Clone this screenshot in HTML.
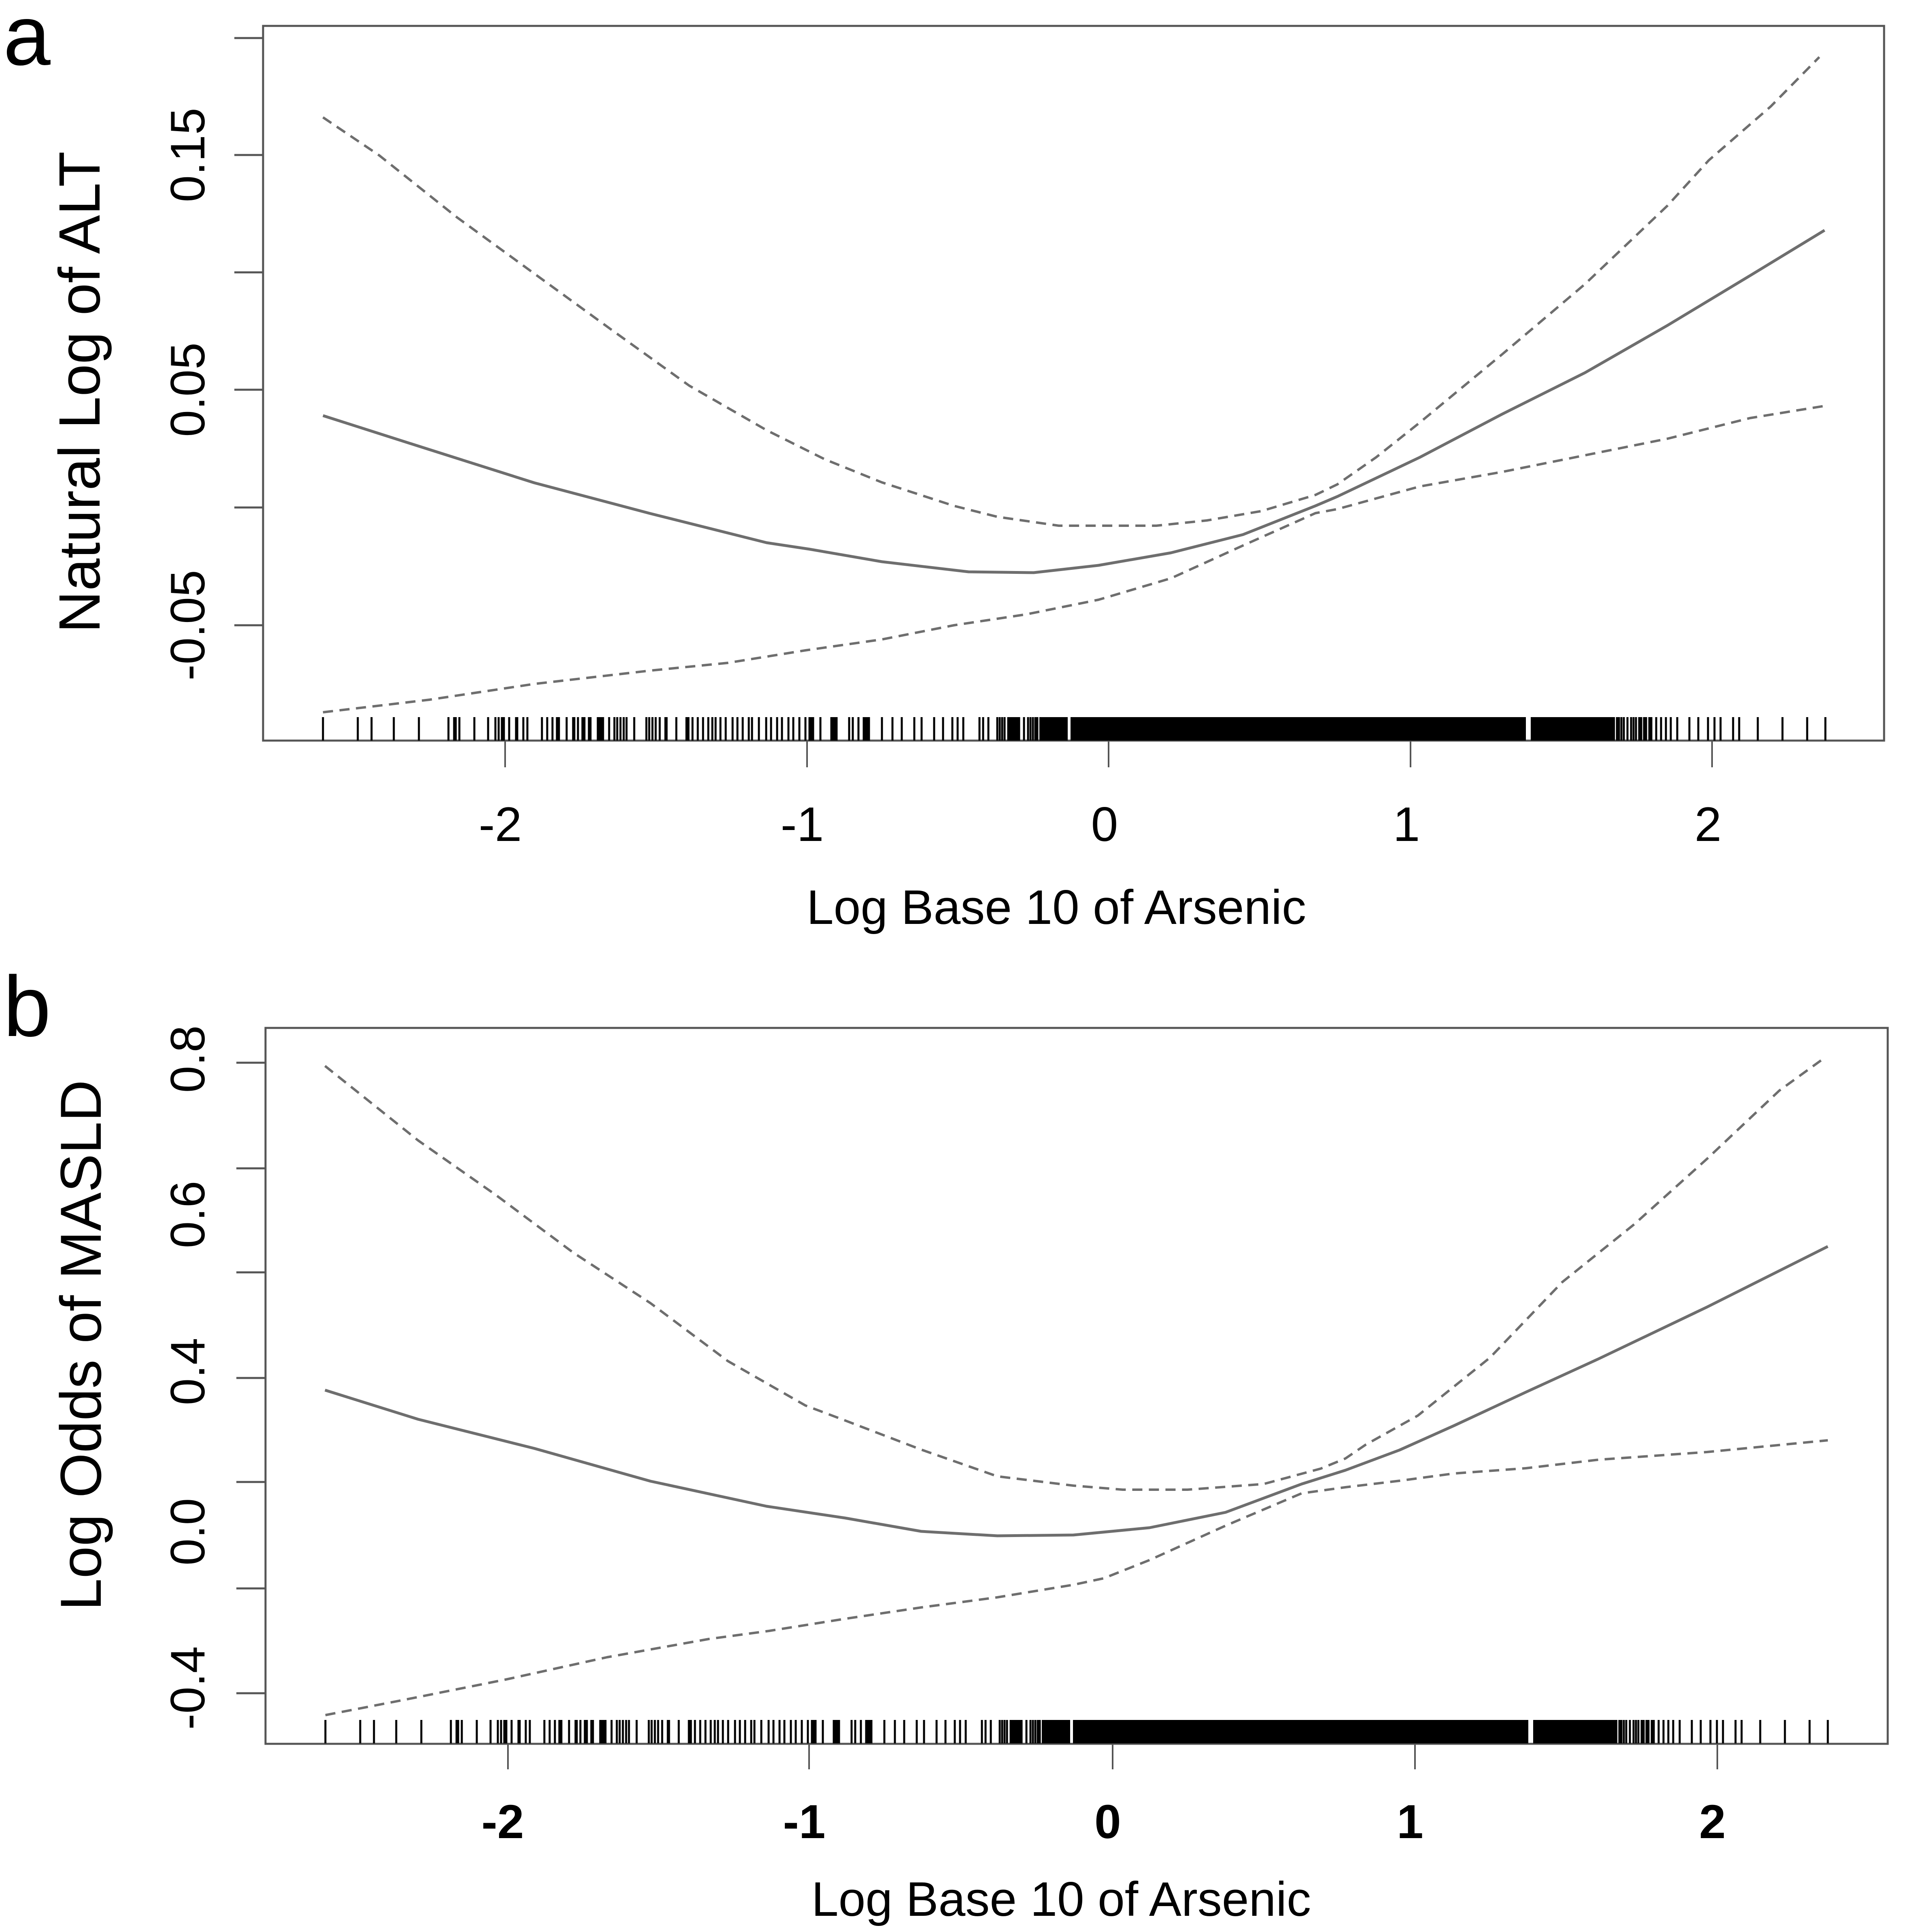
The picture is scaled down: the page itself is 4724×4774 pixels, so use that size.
<!DOCTYPE html>
<html>
<head>
<meta charset="utf-8">
<style>
html,body{margin:0;padding:0;background:#fff;}
svg{display:block;}
text{font-family:"Liberation Sans",Arial,sans-serif;fill:#000;}
</style>
</head>
<body>
<svg xmlns="http://www.w3.org/2000/svg" width="4724" height="4774" viewBox="0 0 4724 4774">
<rect x="0" y="0" width="4724" height="4774" fill="#fff"/>

<defs>
<g id="rug">
<path fill="none" stroke="#000" stroke-width="5" d="M798 0v58M884 0v58M918 0v58M973 0v58M1035 0v58M1108 0v58M1122 0v58M1126 0v58M1135 0v58M1172 0v58M1206 0v58M1224 0v58M1232 0v58M1240 0v58M1245 0v58M1258 0v58M1275 0v58M1278 0v58M1293 0v58M1303 0v58M1339 0v58M1352 0v58M1365 0v58M1376 0v58M1381 0v58M1400 0v58M1416 0v58M1419 0v58M1428 0v58M1439 0v58M1444 0v58M1455 0v58M1459 0v58M1477 0v58M1481 0v58M1485 0v58M1490 0v58M1505 0v58M1518 0v58M1525 0v58M1533 0v58M1541 0v58M1548 0v58M1567 0v58M1597 0v58M1604 0v58M1612 0v58M1620 0v58M1630 0v58M1644 0v58M1647 0v58M1671 0v58M1696 0v58M1701 0v58M1711 0v58M1724 0v58M1737 0v58M1750 0v58M1760 0v58M1768 0v58M1780 0v58M1793 0v58M1810 0v58M1822 0v58M1835 0v58M1850 0v58M1858 0v58M1875 0v58M1893 0v58M1905 0v58M1920 0v58M1932 0v58M1948 0v58M1960 0v58M1975 0v58M1990 0v58M2000 0v58M2005 0v58M2009 0v58M2027 0v58M2054 0v58M2058 0v58M2063 0v58M2067 0v58M2098 0v58M2107 0v58M2121 0v58M2134 0v58M2138 0v58M2143 0v58M2147 0v58M2179 0v58M2205 0v58M2228 0v58M2259 0v58M2277 0v58M2308 0v58M2330 0v58M2353 0v58M2366 0v58M2380 0v58M2420 0v58M2429 0v58M2442 0v58M2464 0v58M2470 0v58M2476 0v58M2482 0v58M2491 0v58M2495 0v58M2500 0v58M2505 0v58M2510 0v58M2514 0v58M2518 0v58M2530 0v58M2540 0v58M2546 0v58M2552 0v58M2558 0v58M2563 0v58M3995 0v58M4000 0v58M4006 0v58M4012 0v58M4021 0v58M4030 0v58M4036 0v58M4042 0v58M4050 0v58M4055 0v58M4062 0v58M4067 0v58M4075 0v58M4080 0v58M4092 0v58M4104 0v58M4116 0v58M4128 0v58M4144 0v58M4174 0v58M4196 0v58M4220 0v58M4236 0v58M4251 0v58M4282 0v58M4297 0v58M4343 0v58M4404 0v58M4465 0v58M4510 0v58"/>
<rect x="2568" y="0" width="70" height="58" fill="#000"/>
<rect x="2645" y="0" width="1125" height="58" fill="#000"/>
<rect x="3782" y="0" width="208" height="58" fill="#000"/>
</g>
</defs>

<!-- ================= PANEL A ================= -->
<text x="8" y="160" font-size="210">a</text>

<rect x="650" y="64" width="4005" height="1766" fill="none" stroke="#555" stroke-width="5"/>

<path stroke="#555" stroke-width="5" fill="none" d="M579 94H650M579 383H650M579 673H650M579 963H650M579 1254H650M579 1545H650"/>
<text font-size="120" text-anchor="middle" transform="translate(505,383) rotate(-90)">0.15</text>
<text font-size="120" text-anchor="middle" transform="translate(505,963) rotate(-90)">0.05</text>
<text font-size="120" text-anchor="middle" transform="translate(505,1545) rotate(-90)">-0.05</text>
<text font-size="144" text-anchor="middle" transform="translate(246,969) rotate(-90)">Natural Log of ALT</text>

<path stroke="#555" stroke-width="4" fill="none" d="M1248 1830V1896M1994 1830V1896M2739 1830V1896M3485 1830V1896M4230 1830V1896"/>
<text font-size="120" text-anchor="middle" x="1236" y="2078">-2</text>
<text font-size="120" text-anchor="middle" x="1982" y="2078">-1</text>
<text font-size="120" text-anchor="middle" x="2729" y="2078">0</text>
<text font-size="120" text-anchor="middle" x="3475" y="2078">1</text>
<text font-size="120" text-anchor="middle" x="4220" y="2078">2</text>
<text font-size="120" text-anchor="middle" x="2610" y="2283">Log Base 10 of Arsenic</text>

<use href="#rug" transform="translate(0,1772)"/>

<polyline fill="none" stroke="#6e6e6e" stroke-width="6" stroke-dasharray="25 16" stroke-linejoin="round"
points="798,290 937,384 1129,537 1320,676 1511,815 1703,953 1894,1063 2038,1135 2179,1192 2357,1250 2464,1277 2616,1299 2857,1299 2982,1286 3116,1263 3250,1223 3304,1197 3400,1130 3508,1044 3712,875 3916,702 4120,508 4222,396 4375,263 4495,141"/>
<polyline fill="none" stroke="#6e6e6e" stroke-width="7" stroke-linejoin="round"
points="798,1027 1033,1102 1320,1193 1607,1269 1894,1341 2000,1357 2179,1388 2393,1413 2554,1415 2714,1397 2893,1366 3071,1321 3250,1250 3304,1227 3508,1130 3712,1023 3916,921 4120,804 4324,681 4508,569"/>
<polyline fill="none" stroke="#6e6e6e" stroke-width="6" stroke-dasharray="25 16" stroke-linejoin="round"
points="798,1760 1061,1729 1320,1690 1607,1657 1798,1638 1990,1607 2179,1580 2357,1545 2536,1518 2714,1482 2893,1429 3071,1348 3250,1268 3304,1258 3508,1202 3712,1166 3916,1125 4120,1084 4324,1033 4508,1003"/>

<!-- ================= PANEL B ================= -->
<text x="8" y="2560" font-size="212">b</text>

<rect x="656" y="2540" width="4008" height="1769" fill="none" stroke="#555" stroke-width="5"/>

<path stroke="#555" stroke-width="5" fill="none" d="M584 2626H656M584 2887H656M584 3144H656M584 3405H656M584 3662H656M584 3925H656M584 4184H656"/>
<text font-size="120" text-anchor="middle" transform="translate(505,2617) rotate(-90)">0.8</text>
<text font-size="120" text-anchor="middle" transform="translate(505,3001) rotate(-90)">0.6</text>
<text font-size="120" text-anchor="middle" transform="translate(505,3389) rotate(-90)">0.4</text>
<text font-size="120" text-anchor="middle" transform="translate(505,3785) rotate(-90)">0.0</text>
<text font-size="120" text-anchor="middle" transform="translate(505,4171) rotate(-90)">-0.4</text>
<text font-size="143" text-anchor="middle" transform="translate(249,3324) rotate(-90)">Log Odds of MASLD</text>

<path stroke="#555" stroke-width="4" fill="none" d="M1255 4309V4372M1999 4309V4372M2749 4309V4372M3496 4309V4372M4243 4309V4372"/>
<text font-size="118" font-weight="bold" text-anchor="middle" x="1242" y="4542">-2</text>
<text font-size="118" font-weight="bold" text-anchor="middle" x="1987" y="4542">-1</text>
<text font-size="118" font-weight="bold" text-anchor="middle" x="2737" y="4542">0</text>
<text font-size="118" font-weight="bold" text-anchor="middle" x="3484" y="4542">1</text>
<text font-size="118" font-weight="bold" text-anchor="middle" x="4231" y="4542">2</text>
<text font-size="120" text-anchor="middle" x="2622" y="4734">Log Base 10 of Arsenic</text>

<use href="#rug" transform="translate(6,4250)"/>

<polyline fill="none" stroke="#6e6e6e" stroke-width="6" stroke-dasharray="25 16" stroke-linejoin="round"
points="803,2634 1033,2818 1224,2952 1416,3095 1607,3220 1798,3363 1990,3473 2088,3510 2276,3582 2464,3648 2652,3671 2774,3681 2934,3681 3122,3667 3263,3629 3324,3604 3374,3570 3503,3498 3681,3355 3860,3168 4038,3025 4217,2864 4396,2695 4505,2616"/>
<polyline fill="none" stroke="#6e6e6e" stroke-width="7" stroke-linejoin="round"
points="803,3435 1033,3507 1320,3579 1607,3660 1894,3722 2088,3751 2276,3784 2464,3795 2652,3793 2840,3775 3028,3737 3216,3667 3324,3633 3458,3583 3592,3523 3770,3440 3949,3358 4217,3230 4516,3080"/>
<polyline fill="none" stroke="#6e6e6e" stroke-width="6" stroke-dasharray="25 16" stroke-linejoin="round"
points="804,4238 1000,4200 1250,4150 1500,4095 1751,4050 1900,4030 2088,4000 2276,3972 2464,3947 2652,3916 2727,3900 2840,3855 3028,3770 3216,3690 3324,3675 3458,3659 3592,3641 3770,3628 3949,3607 4217,3588 4516,3559"/>

</svg>
</body>
</html>
